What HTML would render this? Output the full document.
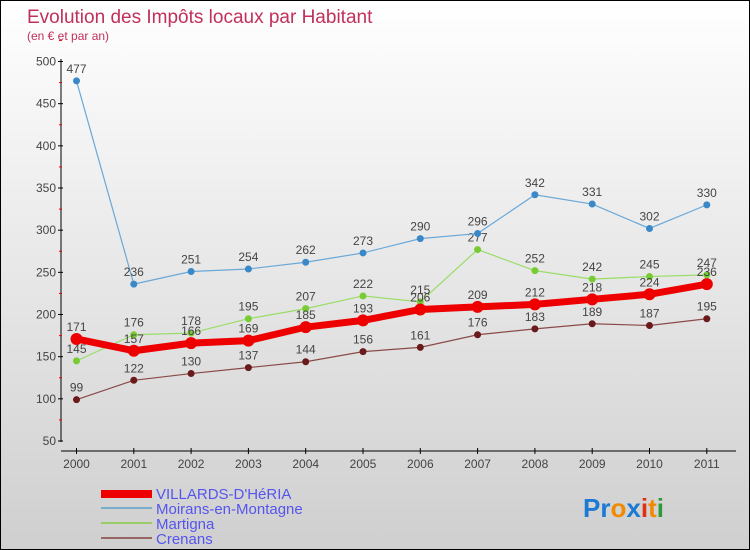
<!DOCTYPE html>
<html><head><meta charset="utf-8"><style>
body{margin:0}
#c{position:relative;width:748px;height:548px;border:1px solid #000;background:linear-gradient(#fff,#cfcfcf);font-family:"Liberation Sans",sans-serif;overflow:hidden}
</style></head><body>
<div id="c">
<svg id="s" width="748" height="548" xmlns="http://www.w3.org/2000/svg">
<text x="26" y="22" font-size="19" fill="#c0305a">Evolution des Impôts locaux par Habitant</text>
<text x="26" y="39" font-size="12" fill="#c0305a">(en € et par an)</text>
<g id="axes"></g><g id="series"></g>
<g>
<rect x="100" y="489" width="51" height="8" fill="#e00"/>
<line x1="100" y1="507" x2="151" y2="507" stroke="#7aaccc" stroke-width="2"/>
<line x1="100" y1="522" x2="151" y2="522" stroke="#9c6" stroke-width="2"/>
<line x1="100" y1="537" x2="151" y2="537" stroke="#966" stroke-width="2"/>
<g font-size="15" fill="#55e">
<text x="155" y="498">VILLARDS-D'HéRIA</text>
<text x="155" y="513">Moirans-en-Montagne</text>
<text x="155" y="528">Martigna</text>
<text x="155" y="543">Crenans</text>
</g></g>
<text x="582" y="516" font-size="26" font-weight="bold"><tspan fill="#1a7ad4">Pr</tspan><tspan fill="#f08a00">o</tspan><tspan fill="#1a7ad4">x</tspan><tspan fill="#e03010">i</tspan><tspan fill="#f08a00">t</tspan><tspan fill="#2a9a3a">i</tspan></text>
</svg></div>
<script>
const years=[2000,2001,2002,2003,2004,2005,2006,2007,2008,2009,2010,2011];
const yTicks=[50,100,150,200,250,300,350,400,450,500];
const villards=[171,157,166,169,185,193,206,209,212,218,224,236];
const moirans=[477,236,251,254,262,273,290,296,342,331,302,330];
const martigna=[145,176,178,195,207,222,215,277,252,242,245,247];
const crenans=[99,122,130,137,144,156,161,176,183,189,187,195];
const NS="http://www.w3.org/2000/svg";
const X=i=>75.5+57.3*i, Y=v=>440-(v-50)*0.8433;
function mk(t,a,p){const e=document.createElementNS(NS,t);for(const k in a)e.setAttribute(k,a[k]);p.appendChild(e);return e;}
const ax=document.getElementById('axes');
let e=mk('line',{x1:60,y1:58,x2:60,y2:441,stroke:'#000'},ax);


e=mk('line',{x1:60,y1:450,x2:735,y2:450,stroke:'#000'},ax);


yTicks.forEach(v=>{
 mk('line',{x1:57,y1:Y(v),x2:62,y2:Y(v),stroke:'#000'},ax);
 mk('line',{x1:58,y1:Y(v+25),x2:61,y2:Y(v+25),stroke:'#e00'},ax);
 const t=mk('text',{x:55,y:Y(v)+4,'font-size':12,fill:'#444','text-anchor':'end'},ax);t.textContent=v;
 
 
});
years.forEach((y,i)=>{
 mk('line',{x1:X(i),y1:447,x2:X(i),y2:453,stroke:'#000'},ax);
 const t=mk('text',{x:X(i),y:467,'font-size':12,fill:'#444','text-anchor':'middle'},ax);t.textContent=y;
 
 
});
const sg=document.getElementById('series');
function series(d,name,col,w,r,dot){
 const g=mk('g',{},sg);
 
 
 const p=mk('polyline',{points:d.map((v,i)=>X(i)+','+Y(v)).join(' '),fill:'none',stroke:col,'stroke-width':w},g);
 
 
 d.forEach((v,i)=>{
  const c=mk('circle',{cx:X(i),cy:Y(v),r:r,fill:dot},g);
  
  
  const t=mk('text',{x:X(i),y:Y(v)-8,'font-size':12,fill:'#444','text-anchor':'middle'},g);t.textContent=v;
  
  
 });
}
series(crenans,'crenans','#8a4a4a',1.2,3.5,'#6a1a1a');
series(martigna,'martigna','#9d6',1.2,3.5,'#7c3');
series(moirans,'moirans','#6aa8d8',1.2,3.5,'#3a88c8');
series(villards,'villards','#e00',7,6,'#e00');
</script>
</body></html>
